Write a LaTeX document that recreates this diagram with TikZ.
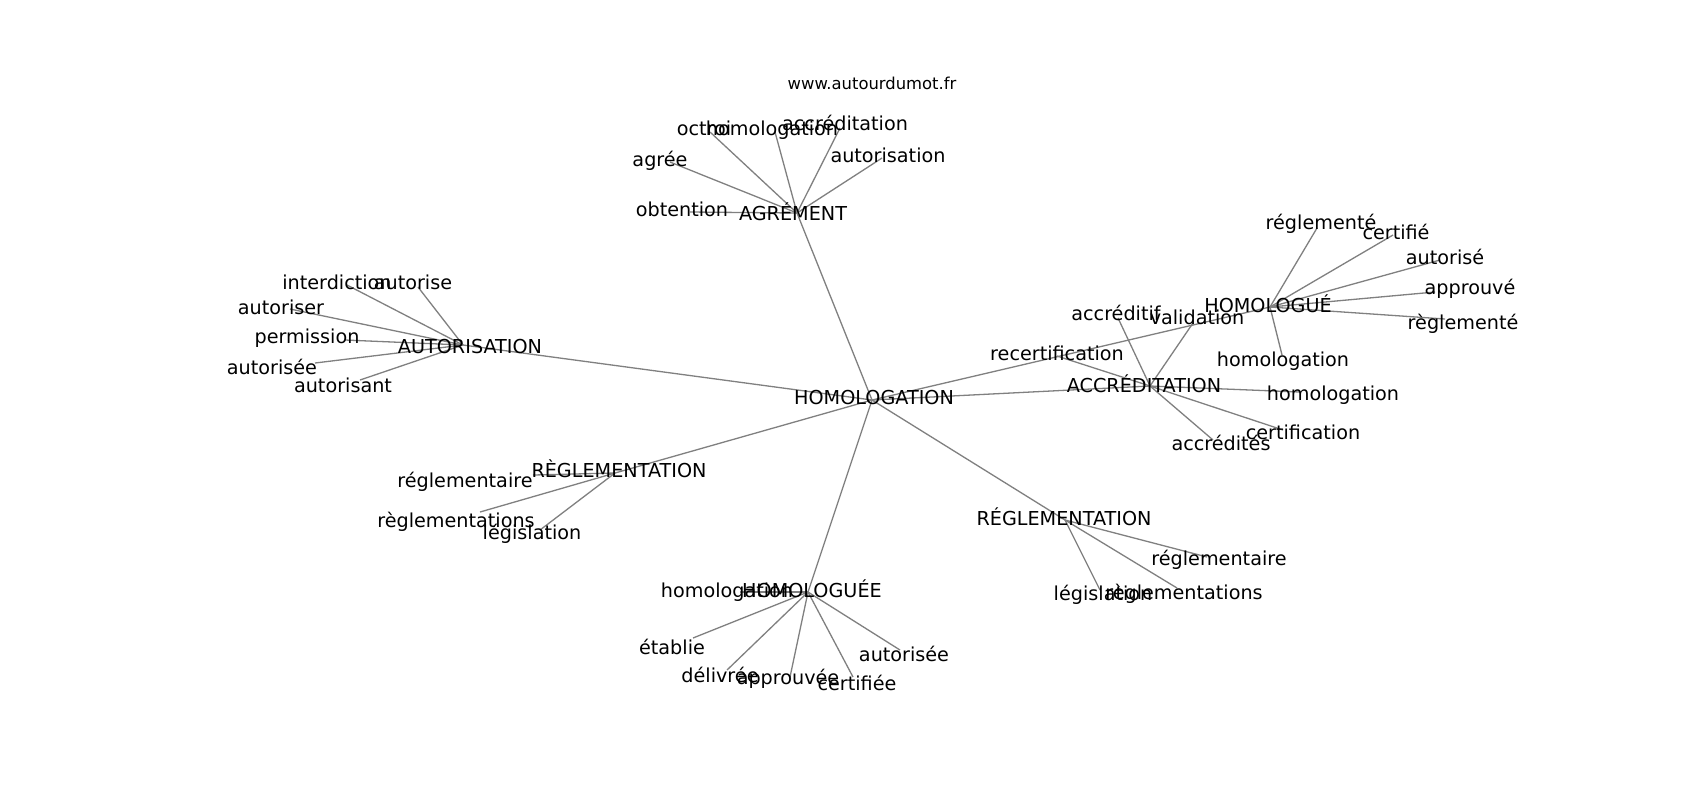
\documentclass[tikz,border=0pt]{standalone}
\usepackage{fontspec}
\setmainfont{DejaVu Sans}
\begin{document}
\begin{tikzpicture}[x=0.5pt,y=-0.5pt,
  lbl/.style={inner sep=0pt,font=\fontsize{9.6}{11}\selectfont,text height=0.73em,text depth=0.2em,text=black,yshift=-1.1pt},
  urlstyle/.style={inner sep=0pt,font=\fontsize{8.2}{10}\selectfont,text height=0.73em,text depth=0.2em,text=black,yshift=-0.5pt},
  edge/.style={draw={rgb,255:red,128;green,128;blue,128},line width=0.65pt}]
\useasboundingbox (0,0) rectangle (1700,800);
\fill[white] (0,0) rectangle (1700,800);
% graph vertices (edge end points)
\coordinate (vHOM) at (872,400);
\coordinate (vAGR) at (797,213);
\coordinate (vAUT) at (463,345);
\coordinate (vREGL) at (615,473);
\coordinate (vHOMEE) at (808,592);
\coordinate (vREGR) at (1065,520);
\coordinate (vACC) at (1150,386);
\coordinate (vHOME) at (1270,307);
% AGREMENT leaves
\coordinate (v1) at (710,132);
\coordinate (v2) at (775,132);
\coordinate (v3) at (840,128);
\coordinate (v4) at (882,158);
\coordinate (v5) at (670,162);
\coordinate (v6) at (690,212);
% AUTORISATION leaves
\coordinate (v7) at (347,285);
\coordinate (v8) at (418,287);
\coordinate (v9) at (290,309);
\coordinate (v10) at (345,340);
\coordinate (v11) at (315,363);
\coordinate (v12) at (360,380);
% REGLEMENTATION left leaves
\coordinate (v13) at (533,475);
\coordinate (v14) at (480,512);
\coordinate (v15) at (540,530);
% HOMOLOGUEE leaves
\coordinate (v16) at (740,592);
\coordinate (v17) at (693,638);
\coordinate (v18) at (727,670);
\coordinate (v19) at (790,677);
\coordinate (v20) at (853,677);
\coordinate (v21) at (900,650);
% REGLEMENTATION right leaves
\coordinate (v22) at (1207,557);
\coordinate (v23) at (1100,590);
\coordinate (v24) at (1177,588);
% ACCREDITATION leaves
\coordinate (v25) at (1057,356);
\coordinate (v26) at (1118,318);
\coordinate (v27) at (1193,323);
\coordinate (v28) at (1300,392);
\coordinate (v29) at (1283,430);
\coordinate (v30) at (1213,440);
% HOMOLOGUE leaves
\coordinate (v31) at (1317,228);
\coordinate (v32) at (1393,235);
\coordinate (v33) at (1440,260);
\coordinate (v34) at (1435,292);
\coordinate (v35) at (1445,319);
\coordinate (v36) at (1282,355);
% edges
\foreach \a/\b in {vHOM/vAGR,vHOM/vAUT,vHOM/vREGL,vHOM/vHOMEE,vHOM/vREGR,vHOM/vACC,vHOM/vHOME,
  vAGR/v1,vAGR/v2,vAGR/v3,vAGR/v4,vAGR/v5,vAGR/v6,
  vAUT/v7,vAUT/v8,vAUT/v9,vAUT/v10,vAUT/v11,vAUT/v12,
  vREGL/v13,vREGL/v14,vREGL/v15,
  vHOMEE/v16,vHOMEE/v17,vHOMEE/v18,vHOMEE/v19,vHOMEE/v20,vHOMEE/v21,
  vREGR/v22,vREGR/v23,vREGR/v24,
  vACC/v25,vACC/v26,vACC/v27,vACC/v28,vACC/v29,vACC/v30,
  vHOME/v31,vHOME/v32,vHOME/v33,vHOME/v34,vHOME/v35,vHOME/v36}
  \draw[edge] (\a) -- (\b);
% labels
\node[urlstyle] (url) at (872,83) {www.autourdumot.fr};
\node[lbl] (tHOM) at (874,397) {HOMOLOGATION};
\node[lbl] (tAGR) at (793,213) {AGRÉMENT};
\node[lbl] (tAUT) at (470,346) {AUTORISATION};
\node[lbl] (tREGL) at (619,470) {RÈGLEMENTATION};
\node[lbl] (tHOMEE) at (812,590) {HOMOLOGUÉE};
\node[lbl] (tREGR) at (1064,518) {RÉGLEMENTATION};
\node[lbl] (tACC) at (1144,385) {ACCRÉDITATION};
\node[lbl] (tHOME) at (1268,305) {HOMOLOGUÉ};
\node[lbl] (t1) at (704,128) {octroi};
\node[lbl] (t2) at (772,128) {homologation};
\node[lbl] (t3) at (845,123) {accréditation};
\node[lbl] (t4) at (888,155) {autorisation};
\node[lbl] (t5) at (660,159) {agrée};
\node[lbl] (t6) at (682,209) {obtention};
\node[lbl] (t7) at (337,282) {interdiction};
\node[lbl] (t8) at (413,282) {autorise};
\node[lbl] (t9) at (281,307) {autoriser};
\node[lbl] (t10) at (307,336) {permission};
\node[lbl] (t11) at (272,367) {autorisée};
\node[lbl] (t12) at (343,385) {autorisant};
\node[lbl] (t13) at (465,480) {réglementaire};
\node[lbl] (t14) at (456,520) {règlementations};
\node[lbl] (t15) at (532,532) {législation};
\node[lbl] (t16) at (727,590) {homologation};
\node[lbl] (t17) at (672,647) {établie};
\node[lbl] (t18) at (720,675) {délivrée};
\node[lbl] (t19) at (788,677) {approuvée};
\node[lbl] (t20) at (857,683) {certifiée};
\node[lbl] (t21) at (904,654) {autorisée};
\node[lbl] (t22) at (1219,558) {réglementaire};
\node[lbl] (t23) at (1103,593) {législation};
\node[lbl] (t24) at (1184,592) {règlementations};
\node[lbl] (t25) at (1057,353) {recertification};
\node[lbl] (t26) at (1116,313) {accréditif};
\node[lbl] (t27) at (1197,317) {validation};
\node[lbl] (t28) at (1333,393) {homologation};
\node[lbl] (t29) at (1303,432) {certification};
\node[lbl] (t30) at (1221,443) {accrédités};
\node[lbl] (t31) at (1321,222) {réglementé};
\node[lbl] (t32) at (1396,232) {certifié};
\node[lbl] (t33) at (1445,257) {autorisé};
\node[lbl] (t34) at (1470,287) {approuvé};
\node[lbl] (t35) at (1463,322) {règlementé};
\node[lbl] (t36) at (1283,359) {homologation};
\end{tikzpicture}
\end{document}
